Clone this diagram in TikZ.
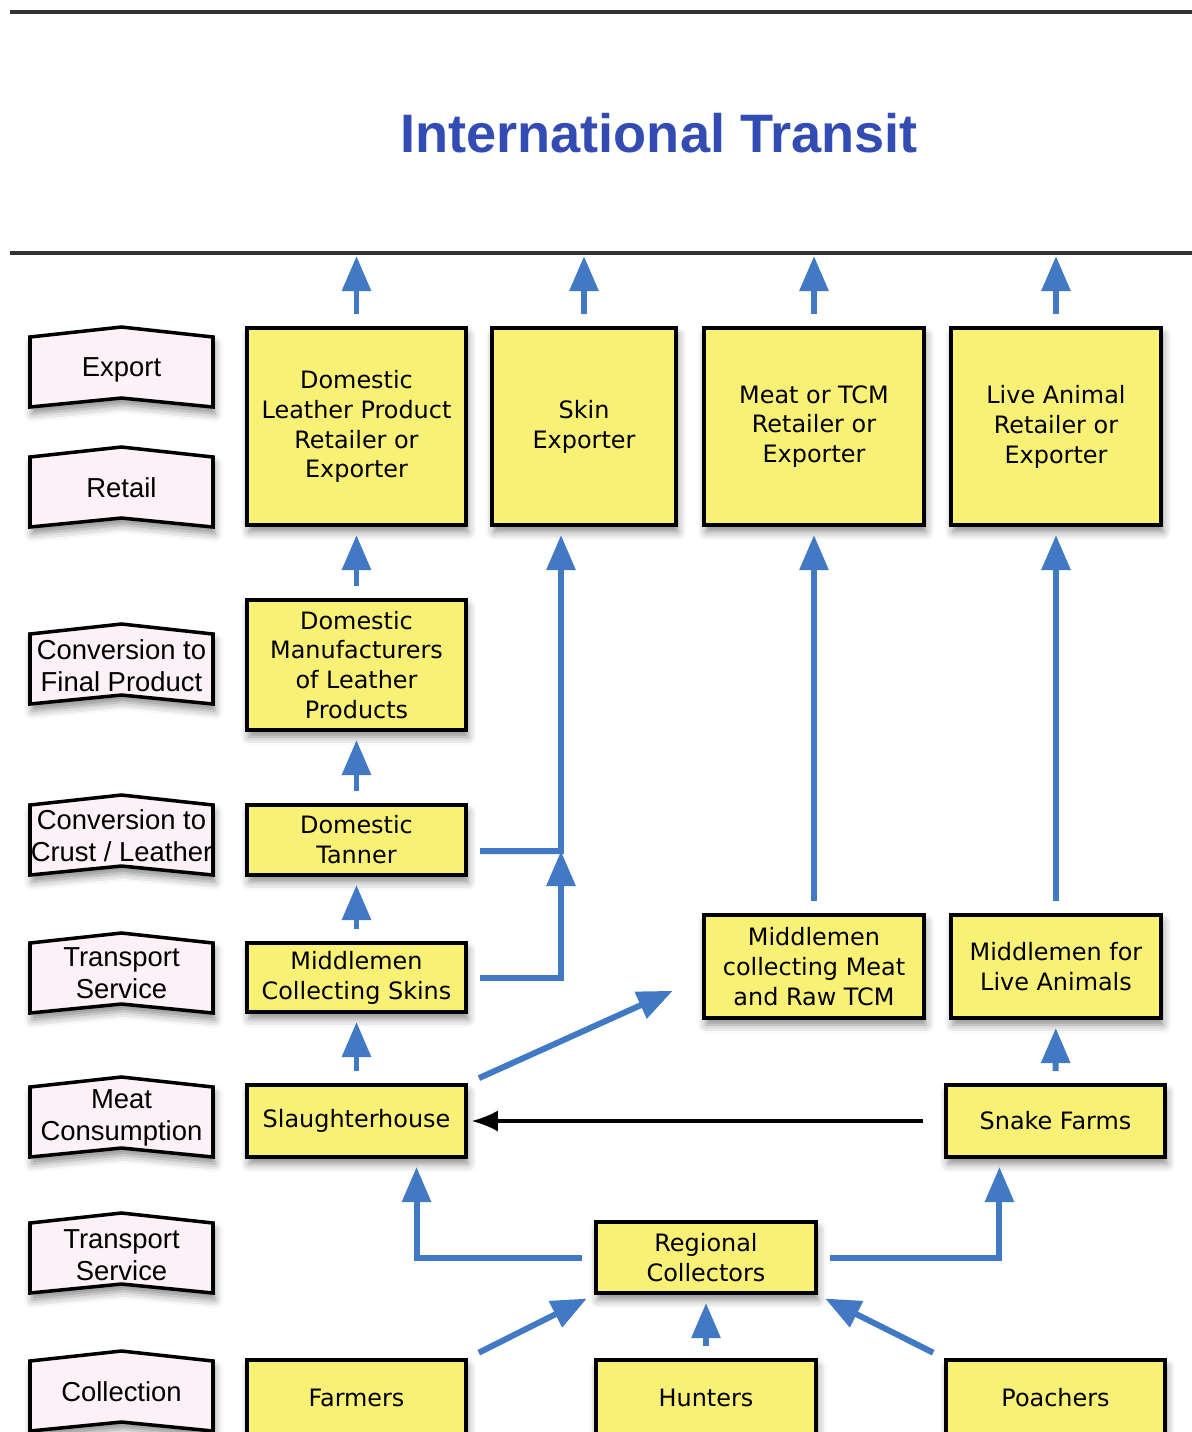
\documentclass[tikz,border=0pt]{standalone}
\usepackage{fontspec}
\setmainfont{Liberation Sans}
\newfontfamily\boxfont{DejaVu Sans}
\usetikzlibrary{arrows.meta}
\usetikzlibrary{shadows.blur}

\definecolor{flowblue}{RGB}{66,121,196}
\definecolor{actoryellow}{RGB}{249,240,118}
\definecolor{stagepink}{RGB}{251,241,246}
\definecolor{titleblue}{RGB}{50,76,180}

\tikzset{
  actor/.style={draw=black, line width=1.1pt, fill=actoryellow, align=center, inner sep=0pt,
    font=\boxfont\fontsize{6.8}{8.5}\selectfont,
    blur shadow={shadow xshift=0.02cm, shadow yshift=-0.07cm, shadow blur radius=0.08cm, shadow opacity=45}},
  stage/.style={inner sep=0pt, minimum width=1.83cm, minimum height=0.70cm, align=center,
    font=\fontsize{7.8}{9.1}\selectfont},
  banner/.style={draw=black, line width=1pt, fill=stagepink,
    blur shadow={shadow xshift=0.02cm, shadow yshift=-0.07cm, shadow blur radius=0.08cm, shadow opacity=45}},
  flow/.style={draw=flowblue, line width=1.7pt, -{Triangle[width=8pt,length=10pt]},
    shorten <=0.12cm, shorten >=0.08cm},
  feed/.style={draw=black, line width=0.9pt, -{Latex[width=6pt,length=7.5pt]}},
  rule/.style={draw=black!80, line width=0.9pt},
}

\begin{document}
\begin{tikzpicture}[x=0.01cm, y=-0.01cm]
\useasboundingbox (0,0) rectangle (1192,1432);

% top band
\draw[rule] (10,12) -- (1192,12);
\draw[rule] (10,253) -- (1192,253);
\coordinate (transitline) at (0,256);
\node[font=\bfseries\fontsize{15.4}{18}\selectfont, text=titleblue] (title) at (659,133) {International Transit};

% stage banners on the left
\foreach \y in {372,492,669,840,978,1122,1258,1396}
  \draw[banner] (30,\y-35) -- (121.5,\y-45) -- (213,\y-35)
    -- (213,\y+35) -- (121.5,\y+26) -- (30,\y+35) -- cycle;

\node[stage] (lexport) at (121.5,370) {Export};
\node[stage] (lretail) at (121.5,488) {Retail};
\node[stage] (lconvfinal) at (121.5,666) {Conversion to\\Final Product};
\node[stage] (lconvcrust) at (121.5,836) {Conversion to\\Crust / Leather};
\node[stage] (ltransport) at (121.5,973) {Transport\\Service};
\node[stage] (lmeatcons) at (121.5,1118) {Meat\\Consumption};
\node[stage] (ltransportb) at (121.5,1255) {Transport\\Service};
\node[stage] (lcollection) at (121.5,1392) {Collection};

% actors
\node[actor, minimum width=2.19cm, minimum height=1.97cm] (dlr) at (356.5,426.5) {Domestic\\Leather Product\\Retailer or\\Exporter};
\node[actor, minimum width=1.84cm, minimum height=1.97cm] (skinexp) at (584,426.5) {Skin\\Exporter};
\node[actor, minimum width=2.20cm, minimum height=1.97cm] (meatexp) at (814,426.5) {Meat or TCM\\Retailer or\\Exporter};
\node[actor, minimum width=2.10cm, minimum height=1.97cm] (liveexp) at (1056,426.5) {Live Animal\\Retailer or\\Exporter};

\node[actor, minimum width=2.19cm, minimum height=1.30cm] (manuf) at (356.5,665) {Domestic\\Manufacturers\\of Leather\\Products};
\node[actor, minimum width=2.19cm, minimum height=0.70cm] (tanner) at (356.5,840) {Domestic\\Tanner};
\node[actor, minimum width=2.19cm, minimum height=0.69cm] (mskins) at (356.5,977.5) {Middlemen\\Collecting Skins};
\node[actor, minimum width=2.19cm, minimum height=0.72cm] (slaughter) at (356.5,1121) {Slaughterhouse};
\node[actor, minimum width=2.19cm, minimum height=0.76cm] (farmers) at (356.5,1398) {Farmers};

\node[actor, minimum width=2.20cm, minimum height=1.03cm] (mmeat) at (814,966.5) {Middlemen\\collecting Meat\\and Raw TCM};
\node[actor, minimum width=2.10cm, minimum height=1.03cm] (mlive) at (1056,966.5) {Middlemen for\\Live Animals};
\node[actor, minimum width=2.19cm, minimum height=0.72cm] (snake) at (1055.5,1121) {Snake Farms};
\node[actor, minimum width=2.19cm, minimum height=0.76cm] (poachers) at (1055.5,1398) {Poachers};

\node[actor, minimum width=2.20cm, minimum height=0.71cm] (regional) at (706,1257.5) {Regional\\Collectors};
\node[actor, minimum width=2.20cm, minimum height=0.76cm] (hunters) at (706,1398) {Hunters};

% out to international transit
\foreach \n in {dlr,skinexp,meatexp,liveexp}
  \draw[flow, shorten >=0pt] (\n.north) -- (\n.north |- transitline);

% leather chain
\draw[flow] (manuf) -- (dlr);
\draw[flow] (tanner) -- (manuf);
\draw[flow] (mskins) -- (tanner);
\draw[flow] (slaughter) -- (mskins);
\coordinate (skinjoin) at (561,851);
\draw[flow] ([yshift=-0.11cm]tanner.east) -- (skinjoin) -- (skinjoin |- skinexp.south);
\draw[flow, shorten >=0pt] (mskins.east) -| (skinjoin);

% meat and live animals
\draw[flow] (mmeat) -- (meatexp);
\draw[flow] (mlive) -- (liveexp);
\draw[flow] (snake) -- (mlive);
\draw[flow] (slaughter.north east) -- ([xshift=-0.22cm,yshift=-0.21cm]mmeat.west);
\draw[feed, shorten >=1pt] ([xshift=-0.21cm]snake.west) -- (slaughter.east);

% collection
\draw[flow] (regional.west) -| ([xshift=0.6cm]slaughter.south);
\draw[flow] (regional.east) -| ([xshift=-0.56cm]snake.south);
\draw[flow] (farmers.north east) -- (regional.south west);
\draw[flow] (hunters) -- (regional);
\draw[flow] (poachers.north west) -- (regional.south east);
\end{tikzpicture}
\end{document}
